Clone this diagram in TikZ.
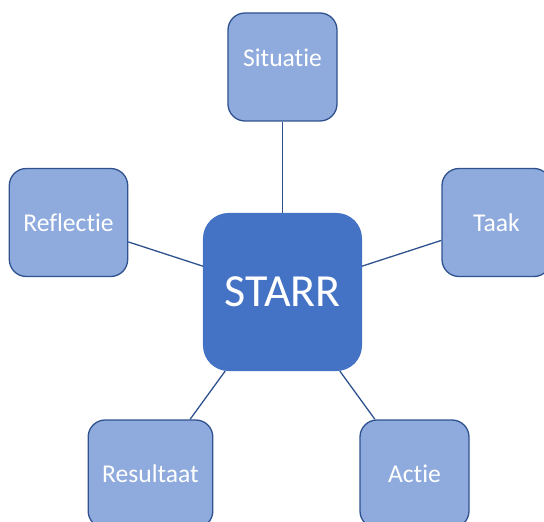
\documentclass[tikz,border=0pt]{standalone}
\usepackage{fontspec}
\setmainfont{Carlito}[Ligatures=NoCommon]
\usetikzlibrary{positioning}
\definecolor{boxfill}{HTML}{8FAADC}
\definecolor{boxline}{HTML}{2F528F}
\definecolor{hubfill}{HTML}{4472C4}
\tikzset{main node/.style={rectangle,rounded corners=17bp,draw=boxline,line width=1.3bp,fill=boxfill,text=white,minimum width=109bp,minimum height=108bp,inner xsep=14bp,font=\fontsize{25.6bp}{30bp}\selectfont},
hub node/.style={rectangle,rounded corners=25bp,draw=hubfill,line width=1bp,fill=hubfill,text=white,minimum width=158bp,minimum height=157bp,font=\fontsize{46bp}{52bp}\selectfont} }

\begin{document}
\begin{tikzpicture}
\begin{scope}[on grid]

  \useasboundingbox (-282.5bp,-230bp) rectangle (261.5bp,292bp);

  \node[hub node] (starr) {STARR};
  \node[main node, text depth=18bp] (sit) [above =225bp of starr] {Situatie};
  \node[main node] (taak) [above right =69.5bp and 214bp of starr] {Taak};
  \node[main node] (actie) [below right =182bp and 132bp of starr] {Actie};
  \node[main node] (res) [below left =182bp and 132bp of starr] {Resultaat};
  \node[main node] (refl) [above left =69.5bp and 214bp of starr] {Reflectie};

    \path[every edge/.style={draw=boxline,line width=1.3bp}]
    (starr) edge [-] (sit)
    (starr) edge [-] (taak)
    (starr) edge [-] (actie)
    (starr) edge [-] (res)
    (starr) edge [-] (refl)
    ;
    \end{scope}
\end{tikzpicture}
\end{document}
